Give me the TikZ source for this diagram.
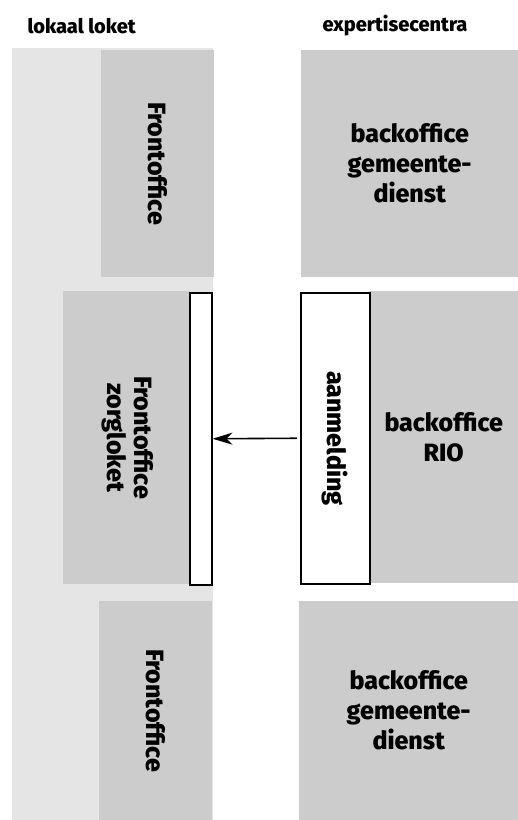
\documentclass[tikz,border=0pt]{standalone}
\usepackage{fontspec}
\setmainfont{Fira Sans}[BoldFont={Fira Sans ExtraBold}]
\usetikzlibrary{arrows.meta}
\definecolor{loketbg}{rgb}{0.9,0.9,0.9}
\definecolor{officegray}{rgb}{0.8,0.8,0.8}
\tikzset{
  office/.style={fill=officegray,inner sep=0pt,anchor=north west,align=center,
    font=\bfseries\fontsize{25}{30}\selectfont},
  slot/.style={draw=black,fill=white,line width=1.5pt,inner sep=0pt,anchor=north west,
    font=\bfseries\fontsize{25}{30}\selectfont},
  header/.style={font=\bfseries\fontsize{20}{24}\selectfont}
}
\begin{document}
\begin{tikzpicture}[x=1pt,y=-1pt]
\useasboundingbox (0,0) rectangle (518,820);
\fill[loketbg] (12,48) rectangle (213,820);
\node[header,anchor=west] (lokaal) at (24,26) {lokaal loket};
\node[header] (expert) at (395,26) {expertisecentra};
% bovenste rij
\node[office,minimum width=113pt,minimum height=227pt] (front1) at (101,50)
  {\rotatebox{-90}{Frontoffice}};
\node[office,minimum width=217pt,minimum height=227pt] (back1) at (301,50)
  {backoffice\\gemeente-\\dienst};
% middelste rij
\node[office,minimum width=127pt,minimum height=293pt] (zorg) at (63,291)
  {\rotatebox{-90}{\begin{tabular}{@{}c@{}}Frontoffice\\[-3pt]zorgloket\end{tabular}}};
\node[slot,minimum width=22pt,minimum height=292pt] (bar) at (189,292) {};
\node[office,minimum width=149pt,minimum height=292pt] (rio) at (369,291)
  {backoffice\\RIO};
\node[slot,minimum width=69pt,minimum height=291pt] (aanm) at (300,292)
  {\rotatebox{-90}{aanmelding}};
% onderste rij
\node[office,minimum width=113pt,minimum height=219pt] (front2) at (99,601)
  {\rotatebox{-90}{Frontoffice}};
\node[office,minimum width=219pt,minimum height=219pt] (back2) at (299,601)
  {backoffice\\gemeente-\\dienst};
\draw[-{Stealth[length=20pt,width=12pt,inset=6pt]},line width=1.6pt] (aanm.west) ++(-3pt,0) -- (bar.east);
\end{tikzpicture}
\end{document}
